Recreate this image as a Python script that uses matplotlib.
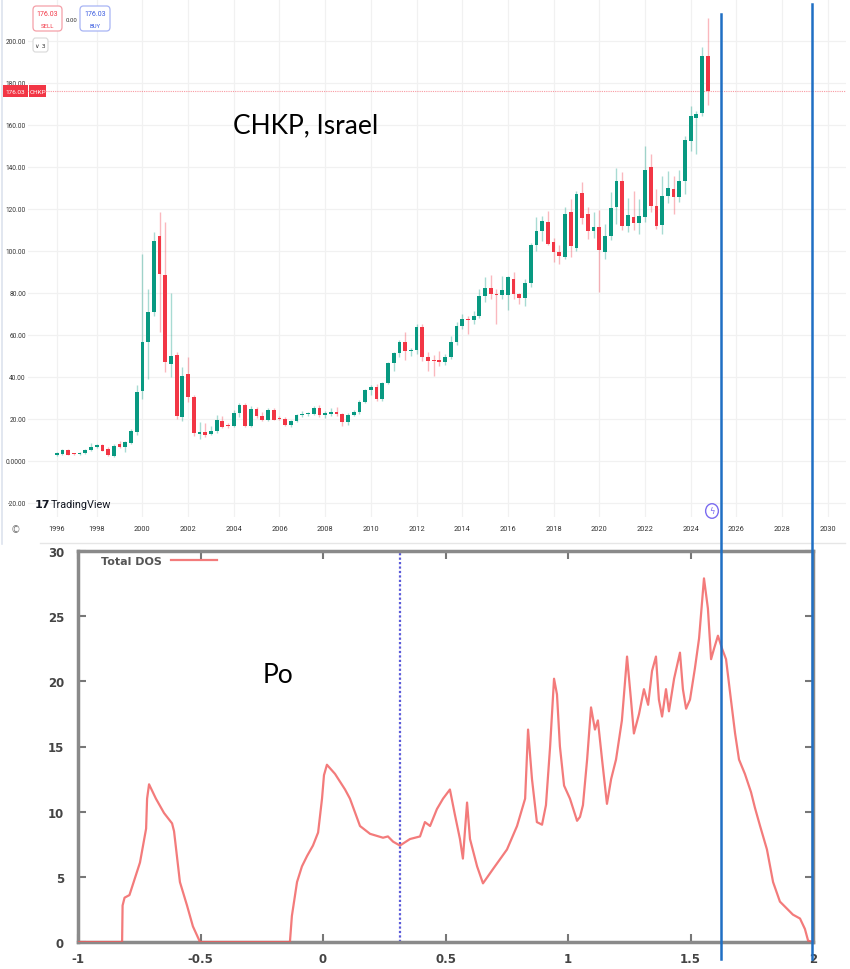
import matplotlib
matplotlib.use("Agg")
import matplotlib.pyplot as plt
from matplotlib.patches import FancyBboxPatch, Circle
from matplotlib.lines import Line2D

# ---------------- data: CHKP quarterly candles (1996Q2 .. 2024Q4) ----------------
first_quarter = "1996Q2"
opens = [3.0, 3.4, 5.4, 3.5, 3.3, 3.8, 5.2, 6.9, 7.5, 5.6, 2.2, 7.9, 6.5, 8.6, 13.7,
         33.5, 56.8, 70.8, 107.3, 88.6, 46.2, 50.5, 20.8, 41.3, 30.5, 12.9, 14.0, 12.9, 14.1, 19.0,
         17.2, 16.6, 22.7, 26.9, 16.8, 24.8, 21.6, 19.7, 24.3, 20.5, 20.0, 17.1, 18.9, 21.9, 22.3,
         22.5, 25.4, 22.0, 22.5, 23.5, 22.4, 18.4, 22.1, 23.3, 28.3, 33.9, 35.1, 29.3, 37.0, 46.5,
         51.2, 56.8, 52.3, 53.0, 63.8, 49.4, 47.8, 48.3, 47.0, 49.4, 56.5, 64.5, 67.6, 67.0, 69.2,
         78.7, 82.3, 79.6, 79.0, 79.0, 86.7, 79.6, 77.5, 84.6, 102.8, 109.3, 113.6, 104.4, 99.4, 97.0,
         118.4, 101.5, 127.6, 117.6, 109.7, 111.3, 99.5, 107.3, 121.0, 133.2, 112.0, 116.0, 113.3, 116.0, 140.0,
         121.6, 112.3, 126.3, 129.5, 125.5, 133.1, 152.4, 163.4, 165.7, 192.7]
highs = [4.3, 5.9, 5.9, 4.0, 4.2, 5.6, 8.4, 8.0, 8.2, 6.8, 8.0, 9.6, 9.3, 15.2, 36.0,
         98.6, 81.9, 108.9, 118.7, 113.7, 80.0, 52.0, 44.6, 49.4, 31.5, 18.5, 18.0, 16.5, 21.9, 21.3,
         18.0, 24.5, 27.5, 27.5, 26.0, 25.8, 23.5, 25.0, 25.0, 21.5, 20.8, 19.5, 22.5, 24.0, 23.5,
         26.0, 26.5, 24.0, 25.0, 25.5, 23.0, 23.0, 24.5, 29.0, 34.5, 36.0, 36.5, 37.5, 47.2, 52.0,
         57.5, 61.3, 54.0, 65.2, 65.2, 51.9, 50.5, 52.5, 51.0, 59.7, 66.0, 70.0, 69.0, 71.5, 82.0,
         87.5, 88.6, 82.0, 88.0, 88.3, 89.8, 80.0, 86.7, 104.0, 116.0, 116.8, 119.2, 106.0, 103.0, 120.8,
         124.8, 128.7, 133.0, 121.0, 118.4, 119.6, 112.8, 128.0, 139.3, 137.8, 125.0, 128.7, 124.8, 150.2, 146.2,
         129.5, 135.8, 138.3, 135.8, 138.7, 154.6, 168.9, 166.8, 197.0, 210.8]
lows = [2.6, 2.8, 2.7, 3.0, 3.0, 3.5, 4.9, 6.4, 4.6, 2.6, 1.8, 6.0, 4.5, 8.0, 12.5,
        29.5, 39.0, 69.0, 61.3, 42.5, 39.8, 20.0, 19.0, 27.9, 12.0, 10.5, 11.5, 12.3, 13.5, 15.5,
        15.5, 16.0, 21.0, 16.0, 16.0, 20.5, 19.0, 19.0, 19.3, 19.3, 16.8, 16.2, 18.5, 21.0, 21.5,
        22.0, 21.0, 20.5, 21.5, 21.5, 16.8, 17.0, 21.5, 22.5, 27.5, 31.5, 28.5, 28.5, 36.5, 43.0,
        49.5, 48.0, 50.0, 50.9, 47.8, 43.0, 40.6, 45.4, 45.5, 48.5, 55.0, 63.0, 60.5, 65.0, 68.0,
        75.5, 77.0, 65.2, 77.0, 72.0, 77.0, 74.7, 74.0, 83.0, 100.0, 104.8, 103.0, 94.6, 93.8, 96.0,
        97.0, 100.0, 113.0, 105.8, 106.0, 80.3, 96.0, 105.0, 113.0, 110.0, 108.9, 110.0, 108.0, 114.0, 118.4,
        110.5, 108.0, 123.0, 117.6, 123.2, 127.1, 147.4, 146.0, 164.4, 169.5]
closes = [3.8, 5.4, 2.9, 3.2, 3.8, 5.2, 6.8, 7.5, 4.9, 2.9, 7.3, 6.5, 8.9, 14.1, 32.9,
          56.8, 70.8, 104.9, 89.0, 47.3, 50.0, 21.6, 40.6, 30.5, 13.2, 14.0, 12.5, 14.3, 19.5, 16.3,
          16.6, 22.7, 26.6, 16.8, 24.8, 21.6, 19.7, 24.3, 19.7, 20.0, 17.1, 18.9, 21.9, 22.4, 22.6,
          25.4, 21.9, 22.4, 23.5, 22.5, 18.4, 22.1, 23.3, 28.3, 33.9, 35.1, 29.3, 37.0, 46.5, 51.2,
          56.8, 52.5, 52.8, 64.0, 49.4, 47.8, 47.5, 47.0, 49.4, 56.5, 64.5, 67.6, 67.0, 69.2, 78.7,
          82.3, 79.6, 79.0, 81.2, 87.5, 79.6, 77.5, 84.6, 102.8, 109.3, 114.4, 103.3, 99.4, 97.8, 117.6,
          102.5, 127.1, 115.6, 109.7, 111.3, 100.6, 107.3, 120.3, 133.5, 112.0, 117.0, 113.3, 116.8, 138.7, 121.6,
          112.0, 126.3, 129.8, 125.5, 133.5, 152.9, 164.4, 165.3, 193.0, 176.03]
last_price = 176.03
year_labels = [1996, 1998, 2000, 2002, 2004, 2006, 2008, 2010, 2012, 2014, 2016,
               2018, 2020, 2022, 2024, 2026, 2028, 2030]
price_ticks = [-20, 0, 20, 40, 60, 80, 100, 120, 140, 160, 180, 200]

# ---------------- data: Po total density of states ----------------
energy = [-1.0, -0.82, -0.818, -0.81, -0.79, -0.747, -0.722, -0.718, -0.710, -0.682, -0.649,
          -0.616, -0.608, -0.584, -0.555, -0.531, -0.502, -0.135, -0.127, -0.106, -0.086,
          -0.065, -0.041, -0.020, -0.004, 0.004, 0.016, 0.049, 0.090, 0.110, 0.151, 0.192,
          0.245, 0.265, 0.286, 0.314, 0.355, 0.396, 0.416, 0.437, 0.465, 0.490, 0.518, 0.538,
          0.559, 0.571, 0.588, 0.600, 0.629, 0.653, 0.694, 0.751, 0.792, 0.825, 0.837, 0.853,
          0.873, 0.894, 0.910, 0.927, 0.943, 0.955, 0.967, 0.984, 1.008, 1.037, 1.049, 1.061,
          1.078, 1.094, 1.110, 1.122, 1.139, 1.159, 1.176, 1.196, 1.220, 1.241, 1.257, 1.269,
          1.290, 1.310, 1.327, 1.343, 1.359, 1.371, 1.384, 1.400, 1.412, 1.433, 1.457, 1.469,
          1.482, 1.498, 1.518, 1.535, 1.555, 1.571, 1.584, 1.596, 1.612, 1.629, 1.645, 1.665,
          1.682, 1.698, 1.722, 1.747, 1.763, 1.784, 1.812, 1.837, 1.865, 1.918, 1.947, 1.967,
          1.980, 2.0]
dos = [0, 0, 2.8, 3.4, 3.6, 6.1, 8.7, 11.0, 12.1, 11.0, 9.9,
       9.1, 8.5, 4.6, 2.8, 1.2, 0, 0, 2.0, 4.6, 5.8,
       6.6, 7.4, 8.4, 11.0, 12.8, 13.6, 12.9, 11.7, 11.0, 8.9, 8.3,
       8.0, 8.1, 7.7, 7.4, 7.9, 8.1, 9.2, 8.9, 10.2, 11.0, 11.7, 9.8,
       7.9, 6.4, 10.7, 7.9, 5.8, 4.5, 5.6, 7.1, 8.9, 11.0, 16.3, 12.5,
       9.2, 9.0, 10.5, 15.0, 20.2, 19.0, 15.0, 12.0, 11.0, 9.3, 9.6, 10.5,
       14.0, 18.0, 16.3, 17.0, 14.0, 10.6, 12.5, 14.0, 17.0, 21.9, 18.6, 16.0,
       17.5, 19.4, 18.2, 20.8, 21.9, 18.6, 17.3, 19.4, 17.7, 20.2, 22.2, 19.4,
       17.9, 18.6, 21.0, 23.3, 27.9, 25.6, 21.7, 22.5, 23.5, 22.5, 21.7, 18.6,
       16.0, 14.0, 12.9, 11.5, 10.3, 8.9, 7.1, 4.6, 3.1, 2.1, 1.8, 1.0,
       0.1, 0]
fermi_level = 0.314
e_ticks = [-1, -0.5, 0, 0.5, 1, 1.5, 2]
e_tick_labels = ["-1", "-0.5", "0", "0.5", "1", "1.5", "2"]
dos_ticks = [0, 5, 10, 15, 20, 25, 30]

# ---------------- figure ----------------
W, H = 850, 970
fig = plt.figure(figsize=(W / 100, H / 100), dpi=100)
fig.patch.set_facecolor("white")


def fx(x):
    return x / W


def fy(y):
    return 1 - y / H


GREEN = "#089981"
RED = "#F23645"

# ---------------- top: candlestick ----------------
ax1 = fig.add_axes([fx(28), fy(518), fx(846) - fx(28), fy(0) - fy(518)])
n = len(opens)
idx = list(range(n))
for i in idx:
    o, h, l, c = opens[i], highs[i], lows[i], closes[i]
    col = GREEN if c >= o else RED
    ax1.vlines(i, l, h, color=col, alpha=0.35, lw=1.0, zorder=2)
    body = max(abs(c - o), 0.7)
    ax1.bar(i, body, bottom=min(o, c), width=0.66, color=col, zorder=3, linewidth=0)

ax1.axhline(last_price, color=RED, lw=0.8, ls=(0, (1, 1)), alpha=0.5, zorder=1)
ax1.set_xlim(-5.03, 138.2)
ax1.set_ylim(-26.67, 220)

first_year = int(first_quarter[:4])
first_q = int(first_quarter[-1])
year_pos = [0 if y == first_year else (y - first_year) * 4 - (first_q - 1) for y in year_labels]
ax1.set_xticks(year_pos)
ax1.set_xticklabels([str(y) for y in year_labels])
ax1.set_yticks(price_ticks)
ax1.set_yticklabels(["0.0000" if v == 0 else f"{v:.2f}" for v in price_ticks])
ax1.tick_params(axis="both", length=0, labelcolor="#333333")
ax1.tick_params(axis="x", pad=6, labelsize=5.3)
ax1.tick_params(axis="y", pad=1.5, labelsize=4.7)
for lab in ax1.get_yticklabels() + ax1.get_xticklabels():
    lab.set_family("Roboto")
ax1.grid(True, color="#f1f1f1", lw=0.9, zorder=0)
ax1.set_axisbelow(True)
for s in ax1.spines.values():
    s.set_visible(False)

# left border and separator
fig.add_artist(Line2D([fx(1.5), fx(1.5)], [fy(0), fy(545)], color="#dde3ee", lw=1.2))
fig.add_artist(Line2D([fx(40), fx(845)], [fy(544), fy(544)], color="#e6e6e6", lw=1.0))

# price label boxes
fig.add_artist(FancyBboxPatch((fx(3), fy(98)), fx(25), fy(86) - fy(98), boxstyle="square,pad=0",
                              transform=fig.transFigure, fc=RED, ec=RED, lw=0))
fig.add_artist(FancyBboxPatch((fx(29), fy(98)), fx(17), fy(86) - fy(98), boxstyle="square,pad=0",
                              transform=fig.transFigure, fc=RED, ec=RED, lw=0))
fig.text(fx(15.5), fy(92), "176.03", ha="center", va="center", fontsize=4.6, color="white",
         family="Roboto")
fig.text(fx(37.5), fy(92), "CHKP", ha="center", va="center", fontsize=4.6, color="white",
         family="Roboto")

# sell / buy widgets
fig.add_artist(FancyBboxPatch((fx(33), fy(32)), fx(29), fy(7) - fy(32),
                              boxstyle="round,pad=0,rounding_size=0.004", transform=fig.transFigure,
                              fc="white", ec="#f4a0a8", lw=0.9))
fig.text(fx(47.5), fy(14.5), "176.03", ha="center", va="center", fontsize=5, color=RED,
         family="Roboto")
fig.text(fx(47.5), fy(26), "SELL", ha="center", va="center", fontsize=4.3, color=RED,
         family="Roboto")
fig.text(fx(71), fy(20.5), "0.00", ha="center", va="center", fontsize=4.3, color="#333333",
         family="Roboto")
fig.add_artist(FancyBboxPatch((fx(80), fy(32)), fx(30), fy(7) - fy(32),
                              boxstyle="round,pad=0,rounding_size=0.004", transform=fig.transFigure,
                              fc="white", ec="#a8b4f4", lw=0.9))
fig.text(fx(95), fy(14.5), "176.03", ha="center", va="center", fontsize=5, color="#3a5ce0",
         family="Roboto")
fig.text(fx(95), fy(26), "BUY", ha="center", va="center", fontsize=4.3, color="#3a5ce0",
         family="Roboto")
fig.add_artist(FancyBboxPatch((fx(33), fy(53)), fx(15), fy(39) - fy(53),
                              boxstyle="round,pad=0,rounding_size=0.003", transform=fig.transFigure,
                              fc="white", ec="#d8d8d8", lw=0.8))
fig.text(fx(40.5), fy(46), "∨ 3", ha="center", va="center", fontsize=4.5, color="#333333")

# TradingView logo
fig.text(fx(35), fy(505), "17", ha="left", va="center", fontsize=8, fontweight="bold",
         color="#131722")
fig.text(fx(51), fy(505), "TradingView", ha="left", va="center", fontsize=7.8,
         family="Roboto", color="#131722")
# lightning icon
fig.add_artist(Circle((fx(712), fy(512)), 0.0075, transform=fig.transFigure, fc="white",
                      ec="#7b6cf0", lw=1.0))
fig.text(fx(712), fy(512), "ϟ", ha="center", va="center", fontsize=6, color="#7b6cf0")
fig.text(fx(15), fy(530), "©", ha="center", va="center", fontsize=7, color="#777777")

fig.text(fx(306), fy(126), "CHKP, Israel", ha="center", va="center", fontsize=19,
         family="Lato", color="black")

# ---------------- bottom: DOS ----------------
ax2 = fig.add_axes([fx(78), fy(943), fx(813) - fx(78), fy(552) - fy(943)])
ax2.plot(energy, dos, color="#f05a5a", lw=1.6, alpha=0.8, label="Total DOS", zorder=3)
ax2.axvline(fermi_level, color="#5a5ad8", lw=1.6, ls=(0, (1, 1)), zorder=2)
ax2.set_xlim(-1, 2)
ax2.set_ylim(0, 30)
ax2.set_xticks(e_ticks)
ax2.set_xticklabels(e_tick_labels)
ax2.set_yticks(dos_ticks)
for lab in ax2.get_xticklabels() + ax2.get_yticklabels():
    lab.set_fontweight("bold")
ax2.tick_params(axis="both", direction="in", length=6, width=1.5, color="#777777",
                top=True, right=True, labelsize=8.5, labelcolor="#444444")
ax2.tick_params(axis="x", pad=7)
ax2.tick_params(axis="y", pad=10)
for s in ax2.spines.values():
    s.set_color("#8a8a8a")
    s.set_linewidth(2.5)
leg = ax2.legend(loc="upper left", frameon=False, markerfirst=False, handlelength=4.2,
                 prop=dict(size=8, weight="bold"), borderaxespad=0.2,
                 bbox_to_anchor=(0.022, 1.005))
for t in leg.get_texts():
    t.set_color("#555555")

fig.text(fx(278), fy(676), "Po", ha="center", va="center", fontsize=19, family="Lato",
         color="black")

# overlay blue vertical markers
fig.add_artist(Line2D([fx(721), fx(721)], [fy(15), fy(960)], color="#1f6fc4", lw=1.8))
fig.add_artist(Line2D([fx(812), fx(812)], [fy(5), fy(960)], color="#1f6fc4", lw=1.8))

fig.savefig("out.png", dpi=100, facecolor="white")
